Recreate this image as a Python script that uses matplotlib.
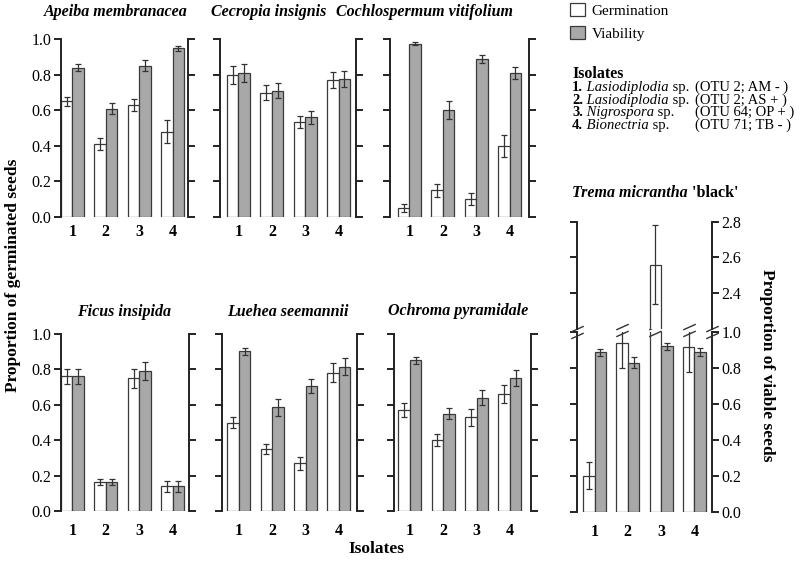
import matplotlib
matplotlib.use('Agg')
import matplotlib.pyplot as plt
import numpy as np
from matplotlib.path import Path

# ---- data ----
isolates = [1, 2, 3, 4]

apeiba_germ = [0.65, 0.41, 0.63, 0.48]
apeiba_germ_se = [0.026, 0.033, 0.032, 0.066]
apeiba_via = [0.84, 0.61, 0.85, 0.95]
apeiba_via_se = [0.02, 0.033, 0.031, 0.014]

cecropia_germ = [0.80, 0.70, 0.535, 0.77]
cecropia_germ_se = [0.049, 0.042, 0.034, 0.045]
cecropia_via = [0.81, 0.71, 0.56, 0.775]
cecropia_via_se = [0.052, 0.042, 0.039, 0.044]

cochlo_germ = [0.05, 0.15, 0.10, 0.40]
cochlo_germ_se = [0.021, 0.036, 0.035, 0.064]
cochlo_via = [0.976, 0.60, 0.89, 0.81]
cochlo_via_se = [0.008, 0.051, 0.024, 0.035]

ficus_germ = [0.76, 0.165, 0.75, 0.14]
ficus_germ_se = [0.042, 0.019, 0.054, 0.032]
ficus_via = [0.76, 0.165, 0.79, 0.14]
ficus_via_se = [0.042, 0.019, 0.053, 0.032]

luehea_germ = [0.50, 0.35, 0.27, 0.78]
luehea_germ_se = [0.029, 0.03, 0.037, 0.054]
luehea_via = [0.90, 0.585, 0.705, 0.815]
luehea_via_se = [0.02, 0.047, 0.038, 0.048]

ochroma_germ = [0.57, 0.40, 0.53, 0.66]
ochroma_germ_se = [0.04, 0.035, 0.047, 0.053]
ochroma_via = [0.85, 0.55, 0.64, 0.75]
ochroma_via_se = [0.019, 0.031, 0.041, 0.045]

trema_germ = [0.20, 0.94, 2.56, 0.915]
trema_germ_se = [0.075, 0.14, 0.22, 0.135]
trema_via = [0.886, 0.83, 0.92, 0.89]
trema_via_se = [0.02, 0.03, 0.018, 0.022]

titles = ['Apeiba membranacea', 'Cecropia insignis', 'Cochlospermum vitifolium',
          'Ficus insipida', 'Luehea seemannii', 'Ochroma pyramidale']
iso_names = ['Lasiodiplodia', 'Lasiodiplodia', 'Nigrospora', 'Bionectria']
iso_codes = ['(OTU 2; AM - )', '(OTU 2; AS + )', '(OTU 64; OP + )', '(OTU 71; TB - )']

# ---- style ----
plt.rcParams['font.family'] = ['Liberation Serif', 'DejaVu Serif']
W, H = 802, 565
EDGE = '#3a3a3a'
GREY = '#a8a8a8'
BW = 0.344


def fx(px):
    return px / W


def fy(py):
    return 1 - py / H


def make_ax(fig, left, right, top, bottom):
    return fig.add_axes([fx(left), fy(bottom), (right - left) / W, (bottom - top) / H])


def style(ax, xlim, ylim, labelleft, labelright, xpad, xlabels=True):
    ax.set_xlim(xlim)
    ax.set_ylim(ylim)
    ax.patch.set_visible(False)
    for s in ['top', 'bottom']:
        ax.spines[s].set_visible(False)
    for s in ['left', 'right']:
        ax.spines[s].set_linewidth(1.4)
        ax.spines[s].set_color('#222222')
    ax.tick_params(axis='y', direction='out', length=5, width=1.4, color='#222222',
                   left=True, right=True, labelleft=labelleft, labelright=labelright,
                   labelsize=11.5, pad=2)
    ax.set_xticks(isolates)
    if xlabels:
        ax.set_xticklabels([str(i) for i in isolates], fontweight='bold', fontsize=11.5)
    else:
        ax.set_xticklabels([])
    ax.tick_params(axis='x', length=0, pad=xpad)


def bars(ax, germ, germ_se, via, via_se):
    x = np.array(isolates, dtype=float)
    ekw = dict(ecolor='#333333', elinewidth=0.9, capsize=2.4, capthick=0.9)
    b1 = ax.bar(x - BW / 2, germ, BW, color='white', edgecolor=EDGE, linewidth=0.9,
                yerr=germ_se, error_kw=ekw, label='Germination')
    b2 = ax.bar(x + BW / 2, via, BW, color=GREY, edgecolor=EDGE, linewidth=0.9,
                yerr=via_se, error_kw=ekw, label='Viability')
    return b1, b2


fig = plt.figure(figsize=(W / 100, H / 100), dpi=100)

panels = [
    (apeiba_germ, apeiba_germ_se, apeiba_via, apeiba_via_se, 61, 188, (0.656, 4.46)),
    (cecropia_germ, cecropia_germ_se, cecropia_via, cecropia_via_se, 220, 356, (0.446, 4.52)),
    (cochlo_germ, cochlo_germ_se, cochlo_via, cochlo_via_se, 390, 529, (0.416, 4.58)),
    (ficus_germ, ficus_germ_se, ficus_via, ficus_via_se, 61, 189, (0.656, 4.49)),
    (luehea_germ, luehea_germ_se, luehea_via, luehea_via_se, 222, 357, (0.497, 4.54)),
    (ochroma_germ, ochroma_germ_se, ochroma_via, ochroma_via_se, 394, 531, (0.527, 4.63)),
]
rows = [(39.3, 217.0, 4.8), (333.7, 511.3, 8.2)]

handles = None
for i, (g, gse, v, vse, l, r, xl) in enumerate(panels):
    top, bot, pad = rows[i // 3]
    ax = make_ax(fig, l, r, top, bot)
    h = bars(ax, g, gse, v, vse)
    if handles is None:
        handles = h
    style(ax, xl, (0, 1.0), labelleft=(i % 3 == 0), labelright=False, xpad=pad)
    ax.set_yticks(np.arange(0, 1.01, 0.2))
    ax.set_yticklabels([f'{t:.1f}' for t in np.arange(0, 1.01, 0.2)])

title_pos = [(116, 12), (269, 12), (424.5, 12), (124, 311.5), (288, 312), (458, 311)]
for t, (px, py) in zip(titles, title_pos):
    fig.text(fx(px), fy(py), t, ha='center', va='center', fontsize=11.5,
             fontweight='bold', fontstyle='italic')

# ---- Trema micrantha 'black' (broken axis) ----
tl, tr = 577, 711.7
txl = (0.474, 4.52)
ax_lo = make_ax(fig, tl, tr, 332, 511.7)
ax_hi = make_ax(fig, tl, tr, 221.7, 328.8)
bars(ax_lo, trema_germ, trema_germ_se, trema_via, trema_via_se)
bars(ax_hi, trema_germ, trema_germ_se, trema_via, trema_via_se)
style(ax_lo, txl, (0, 1.0), labelleft=False, labelright=True, xpad=9)
ax_lo.set_yticks(np.arange(0, 1.01, 0.2))
ax_lo.set_yticklabels([f'{t:.1f}' for t in np.arange(0, 1.01, 0.2)])
style(ax_hi, txl, (2.2, 2.8), labelleft=False, labelright=True, xpad=9, xlabels=False)
ax_hi.set_yticks([2.4, 2.6, 2.8])
ax_hi.set_yticklabels(['2.4', '2.6', '2.8'])

# break marks "//" on spines and on clipped bars / error bars
brk = Path([(-1, -1), (1, -0.1), (-1, 0.1), (1, 1)],
           [Path.MOVETO, Path.LINETO, Path.MOVETO, Path.LINETO])
mk = dict(marker=brk, ms=9, mec='#333333', mew=1.0, ls='none', clip_on=False, zorder=5)
ax_lo.plot([txl[0], txl[1]], [1.0, 1.0], **mk)
x_germ = np.array(isolates, dtype=float) - BW / 2
for k in [1, 2, 3]:
    ax_lo.plot([x_germ[k]], [1.01], **mk)

t1 = fig.text(fx(572), fy(193), "Trema micrantha", ha='left', va='center', fontsize=11.5,
              fontweight='bold', fontstyle='italic')
fig.add_artist(plt.Annotation(" 'black'", xy=(1, 0), xycoords=t1, ha='left', va='bottom',
                              fontsize=11.5, fontweight='bold'))

# ---- legend ----
fig.legend([handles[0], handles[1]], ['Germination', 'Viability'], loc='upper left',
           bbox_to_anchor=(fx(570), fy(3)), frameon=False, fontsize=11,
           handlelength=0.95, handleheight=0.9, handletextpad=0.45,
           labelspacing=0.55, borderpad=0, borderaxespad=0)

fig.text(fx(572), fy(74), 'Isolates', ha='left', va='center', fontsize=11.5, fontweight='bold')
line_y = [87.3, 100, 112.7, 125.3]
for k, (nm, code, py) in enumerate(zip(iso_names, iso_codes, line_y)):
    a = fig.text(fx(572), fy(py), f'{k + 1}.', ha='left', va='center', fontsize=10.5,
                 fontweight='bold')
    b = fig.add_artist(plt.Annotation(' ' + nm, xy=(1, 0), xycoords=a, ha='left',
                                      va='bottom', fontsize=10.5, fontstyle='italic'))
    fig.add_artist(plt.Annotation(' sp.', xy=(1, 0), xycoords=b, ha='left', va='bottom',
                                  fontsize=10.5))
    fig.text(fx(695), fy(py), code, ha='left', va='center', fontsize=10.5)

# ---- axis labels ----
fig.text(fx(13), fy(275), 'Proportion of germinated seeds', rotation=90, ha='center',
         va='center', fontsize=12.5, fontweight='bold')
fig.text(fx(767), fy(365), 'Proportion of viable seeds', rotation=270, ha='center',
         va='center', fontsize=12.5, fontweight='bold')
fig.text(fx(376), fy(549), 'Isolates', ha='center', va='center', fontsize=12.5,
         fontweight='bold')

fig.savefig('out.png', dpi=100)
